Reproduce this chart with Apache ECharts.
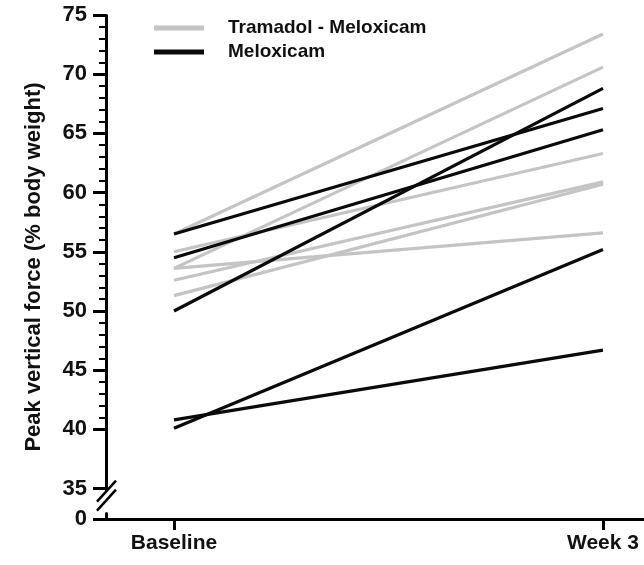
<!DOCTYPE html>
<html><head><meta charset="utf-8">
<script src="https://cdn.jsdelivr.net/npm/echarts@6/dist/echarts.min.js"></script>
<style>html,body{margin:0;padding:0;background:#fff}#c{width:644px;height:565px}</style>
</head><body><div id="c"></div>
<script>
const categories = ['Baseline', 'Week 3'];
const tramadolBaseline = [56.5, 53.6, 55.0, 53.6, 52.6, 51.3];
const tramadolWeek3 = [73.4, 70.6, 63.3, 56.6, 60.9, 60.7];
const meloxicamBaseline = [56.5, 54.5, 50.0, 40.1, 40.8];
const meloxicamWeek3 = [67.1, 65.3, 68.8, 55.2, 46.7];
const yTickValues = [0, 35, 40, 45, 50, 55, 60, 65, 70, 75];
const yBreakStart = 0.5, yBreakEnd = 34.5;

const FONT = '"Liberation Sans", Arial, sans-serif';
const GRAY = '#c4c4c4', BLACK = '#0a0a0a';

const series = [];
tramadolBaseline.forEach((b, i) => series.push({
  name: 'Tramadol - Meloxicam', type: 'line', symbol: 'none', silent: true,
  data: [[0, b], [1, tramadolWeek3[i]]],
  lineStyle: { color: GRAY, width: 3.2 }, itemStyle: { color: GRAY }, z: 2
}));
meloxicamBaseline.forEach((b, i) => series.push({
  name: 'Meloxicam', type: 'line', symbol: 'none', silent: true,
  data: [[0, b], [1, meloxicamWeek3[i]]],
  lineStyle: { color: BLACK, width: 3.2 }, itemStyle: { color: BLACK }, z: 3
}));

const chart = echarts.init(document.getElementById('c'), null, { renderer: 'canvas' });
chart.setOption({
  animation: false,
  backgroundColor: '#fff',
  grid: { left: 106, right: 0, top: 15, bottom: 46 },
  legend: {
    orient: 'vertical', left: 149, top: 13, itemWidth: 50, itemHeight: 5, itemGap: 4,
    icon: 'rect', selectedMode: false,
    textStyle: { fontFamily: FONT, fontWeight: 'bold', fontSize: 19, color: '#111', padding: [0, 0, 0, 19], lineHeight: 20 },
    data: ['Tramadol - Meloxicam', 'Meloxicam']
  },
  xAxis: {
    type: 'value', min: -0.1585, max: 1.0956,
    splitLine: { show: false },
    axisLine: { lineStyle: { color: '#000', width: 3 } },
    axisTick: { customValues: [0, 1], length: 11, lineStyle: { color: '#000', width: 3 } },
    axisLabel: {
      customValues: [0, 1], margin: 14,
      formatter: v => categories[Math.round(v)],
      fontFamily: FONT, fontWeight: 'bold', fontSize: 21, color: '#111'
    }
  },
  yAxis: {
    type: 'value', min: 0, max: 75, interval: 5,
    breaks: [{ start: yBreakStart, end: yBreakEnd, gap: 1.57 }],
    breakArea: { show: false },
    name: 'Peak vertical force (% body weight)', nameLocation: 'middle', nameGap: 61,
    nameTextStyle: { fontFamily: FONT, fontWeight: 'bold', fontSize: 22, color: '#111' },
    splitLine: { show: false },
    axisLine: { show: true, onZero: false, lineStyle: { color: '#000', width: 3 } },
    axisTick: { show: true, customValues: yTickValues, length: 13, lineStyle: { color: '#000', width: 3 } },
    minorTick: { show: true, splitNumber: 5, length: 7, lineStyle: { color: '#000', width: 2 } },
    axisLabel: {
      customValues: yTickValues, margin: 19,
      fontFamily: FONT, fontWeight: 'bold', fontSize: 22, color: '#111'
    }
  },
  series: series
});

// break marks on the y axis
const ax = chart.convertToPixel({ xAxisIndex: 0 }, -0.1585);
const y35 = chart.convertToPixel({ yAxisIndex: 0 }, 35);
const cu = y35 + 3, cl = y35 + 12;
chart.setOption({
  graphic: [
    { type: 'polygon', z: 100, shape: { points: [[ax - 9, cu + 10], [ax + 10, cu - 11], [ax + 10, cl - 11], [ax - 9, cl + 10]] }, style: { fill: '#fff' } },
    { type: 'line', z: 101, shape: { x1: ax - 9, y1: cu + 10, x2: ax + 10, y2: cu - 11 }, style: { stroke: '#000', lineWidth: 2.5 } },
    { type: 'line', z: 101, shape: { x1: ax - 9, y1: cl + 10, x2: ax + 10, y2: cl - 11 }, style: { stroke: '#000', lineWidth: 2.5 } }
  ]
});
</script></body></html>
